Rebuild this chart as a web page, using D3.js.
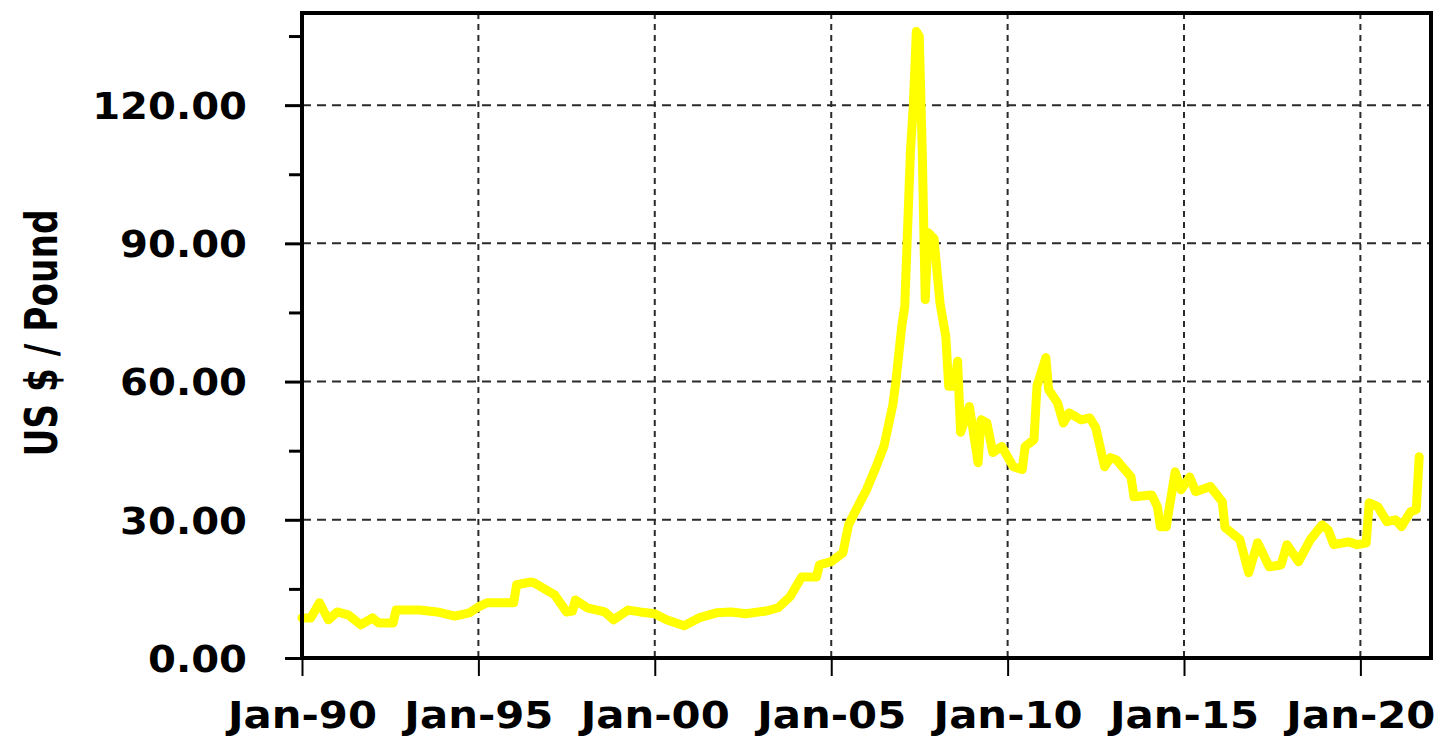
<!DOCTYPE html>
<html>
<head>
<meta charset="utf-8">
<script src="https://d3js.org/d3.v7.min.js"></script>
<style>
  body { margin: 0; background: #fff; }
  text { font-family: "DejaVu Sans", Verdana, sans-serif; font-weight: bold; fill: #000; }
</style>
</head>
<body>
<div id="my_dataviz"></div>
<script>
// monthly points (US $ / pound)
var months = [
  "1990-01","1990-04","1990-07","1990-10","1991-01","1991-05","1991-09","1992-01","1992-03","1992-08",
  "1992-09","1993-05","1993-11","1994-05","1994-10","1995-01","1995-04","1996-01","1996-02","1996-07",
  "1996-08","1997-03","1997-07","1997-09","1997-10","1998-02","1998-08","1998-11","1999-04","1999-08",
  "2000-01","2000-05","2000-11","2001-04","2001-10","2002-03","2002-08","2003-03","2003-07","2003-11",
  "2004-03","2004-08","2004-09","2005-01","2005-05","2005-07","2005-10","2006-01","2006-04","2006-07",
  "2006-10","2006-11","2007-01","2007-02","2007-04","2007-05","2007-06","2007-07","2007-08","2007-09",
  "2007-10","2007-12","2008-02","2008-04","2008-05","2008-07","2008-08","2008-09","2008-12","2009-03",
  "2009-04","2009-06","2009-08","2009-11","2010-03","2010-06","2010-07","2010-10","2010-11","2011-02",
  "2011-03","2011-06","2011-08","2011-10","2012-02","2012-05","2012-07","2012-10","2012-12","2013-02",
  "2013-07","2013-08","2014-02","2014-04","2014-05","2014-07","2014-10","2014-12","2015-03","2015-05",
  "2015-10","2016-02","2016-03","2016-08","2016-11","2017-02","2017-06","2017-10","2017-12","2018-04",
  "2018-08","2018-12","2019-02","2019-04","2019-09","2019-12","2020-03","2020-04","2020-07","2020-10",
  "2021-01","2021-03","2021-06","2021-08","2021-09"
];
var prices = [
  8.7, 8.7, 12.0, 8.3, 10.0, 9.3, 7.2, 8.7, 7.6, 7.6,
  10.4, 10.4, 10.0, 9.1, 9.8, 11.1, 12.0, 12.0, 15.9, 16.5,
  16.3, 13.7, 10.0, 10.2, 12.6, 10.9, 10.0, 8.3, 10.4, 10.0,
  9.6, 8.3, 7.0, 8.7, 9.8, 10.0, 9.6, 10.2, 10.9, 13.3,
  17.6, 17.6, 20.2, 20.9, 22.8, 29.0, 32.8, 36.5, 41.0, 46.0,
  55.0, 60.0, 72.0, 76.3, 110.0, 120.0, 136.0, 135.0, 110.0, 77.8,
  92.3, 91.0, 77.0, 69.8, 59.0, 59.0, 64.4, 49.0, 54.6, 42.4,
  51.7, 51.0, 44.6, 45.9, 41.5, 40.9, 45.9, 47.4, 59.0, 65.2,
  58.3, 55.4, 51.0, 53.2, 51.7, 52.1, 50.0, 41.5, 43.5, 43.0,
  39.3, 35.0, 35.4, 32.8, 28.5, 28.5, 40.4, 36.5, 39.3, 36.1,
  37.2, 33.9, 28.3, 25.7, 18.5, 25.0, 19.8, 20.2, 24.6, 20.9,
  25.7, 28.9, 27.8, 24.6, 25.2, 24.6, 25.0, 33.7, 32.8, 29.6,
  30.0, 28.5, 31.7, 32.2, 43.7
];
var yMajor = [0, 30, 60, 90, 120];
var yMinor = [15, 45, 75, 105, 135];
var yMax = 140;
var xStart = "1990-01", xEnd = "2022-01";

var margin = {top: 13, right: 10, bottom: 80, left: 302},
    width = 1441 - margin.left - margin.right,
    height = 738 - margin.top - margin.bottom;

var svg = d3.select("#my_dataviz")
  .append("svg")
  .attr("width", width + margin.left + margin.right)
  .attr("height", height + margin.top + margin.bottom)
  .append("g")
  .attr("transform", "translate(" + margin.left + "," + margin.top + ")");

var parseMonth = d3.timeParse("%Y-%m");
var data = months.map(function(m, i) {
  return {date: parseMonth(m), value: prices[i]};
});

var x = d3.scaleTime()
  .domain([parseMonth(xStart), parseMonth(xEnd)])
  .range([0, width]);
var y = d3.scaleLinear()
  .domain([0, yMax])
  .range([height, 0]);

var yearTicks = d3.timeYear.every(5).range(parseMonth(xStart), parseMonth(xEnd));

// grid
svg.append("g")
  .selectAll("line")
  .data(yMajor.filter(function(d) { return d > 0; }))
  .enter()
  .append("line")
  .attr("x1", 0).attr("x2", width)
  .attr("y1", function(d) { return y(d); })
  .attr("y2", function(d) { return y(d); })
  .attr("stroke", "#2a2a2a")
  .attr("stroke-width", 2)
  .attr("stroke-dasharray", "9,6");

svg.append("g")
  .selectAll("line")
  .data(yearTicks.slice(1))
  .enter()
  .append("line")
  .attr("x1", function(d) { return x(d); })
  .attr("x2", function(d) { return x(d); })
  .attr("y1", 0).attr("y2", height)
  .attr("stroke", "#2a2a2a")
  .attr("stroke-width", 2)
  .attr("stroke-dasharray", "6,5");

// price line
svg.append("path")
  .datum(data)
  .attr("fill", "none")
  .attr("stroke", "#FFFF00")
  .attr("stroke-width", 9)
  .attr("stroke-linejoin", "round")
  .attr("stroke-linecap", "round")
  .attr("d", d3.line()
    .x(function(d) { return x(d.date); })
    .y(function(d) { return y(d.value); })
  );

// frame
svg.append("rect")
  .attr("x", 0).attr("y", 0)
  .attr("width", width).attr("height", height)
  .attr("fill", "none")
  .attr("stroke", "#000")
  .attr("stroke-width", 4);

// y axis
var yAxis = svg.append("g")
  .call(d3.axisLeft(y).tickValues(yMajor).tickSize(17).tickFormat(d3.format(".2f")));
yAxis.select(".domain").remove();
yAxis.selectAll("line").attr("stroke", "#000").attr("stroke-width", 3);
yAxis.selectAll("text")
  .style("font-size", "37px")
  .attr("x", -55 / 1.085)
  .attr("dy", "0.36em")
  .attr("transform", "scale(1.085,1)");

var yMinorAxis = svg.append("g")
  .call(d3.axisLeft(y).tickValues(yMinor).tickSize(13).tickFormat(""));
yMinorAxis.select(".domain").remove();
yMinorAxis.selectAll("line").attr("stroke", "#000").attr("stroke-width", 3);

// x axis
var xAxis = svg.append("g")
  .attr("transform", "translate(0," + height + ")")
  .call(d3.axisBottom(x).tickValues(yearTicks).tickSize(18).tickFormat(d3.timeFormat("%b-%y")));
xAxis.select(".domain").remove();
xAxis.selectAll("line").attr("stroke", "#000").attr("stroke-width", 2);
xAxis.selectAll("text")
  .style("font-size", "37px")
  .attr("y", 70)
  .attr("dy", "0")
  .attr("transform", "scale(1.13,1)");

// y title
svg.append("text")
  .attr("transform", "translate(" + (57 - margin.left) + "," + (333 - margin.top) + ") rotate(-90)")
  .attr("text-anchor", "middle")
  .attr("textLength", 247)
  .attr("lengthAdjust", "spacingAndGlyphs")
  .style("font-size", "44px")
  .text("US $ / Pound");
</script>
</body>
</html>
